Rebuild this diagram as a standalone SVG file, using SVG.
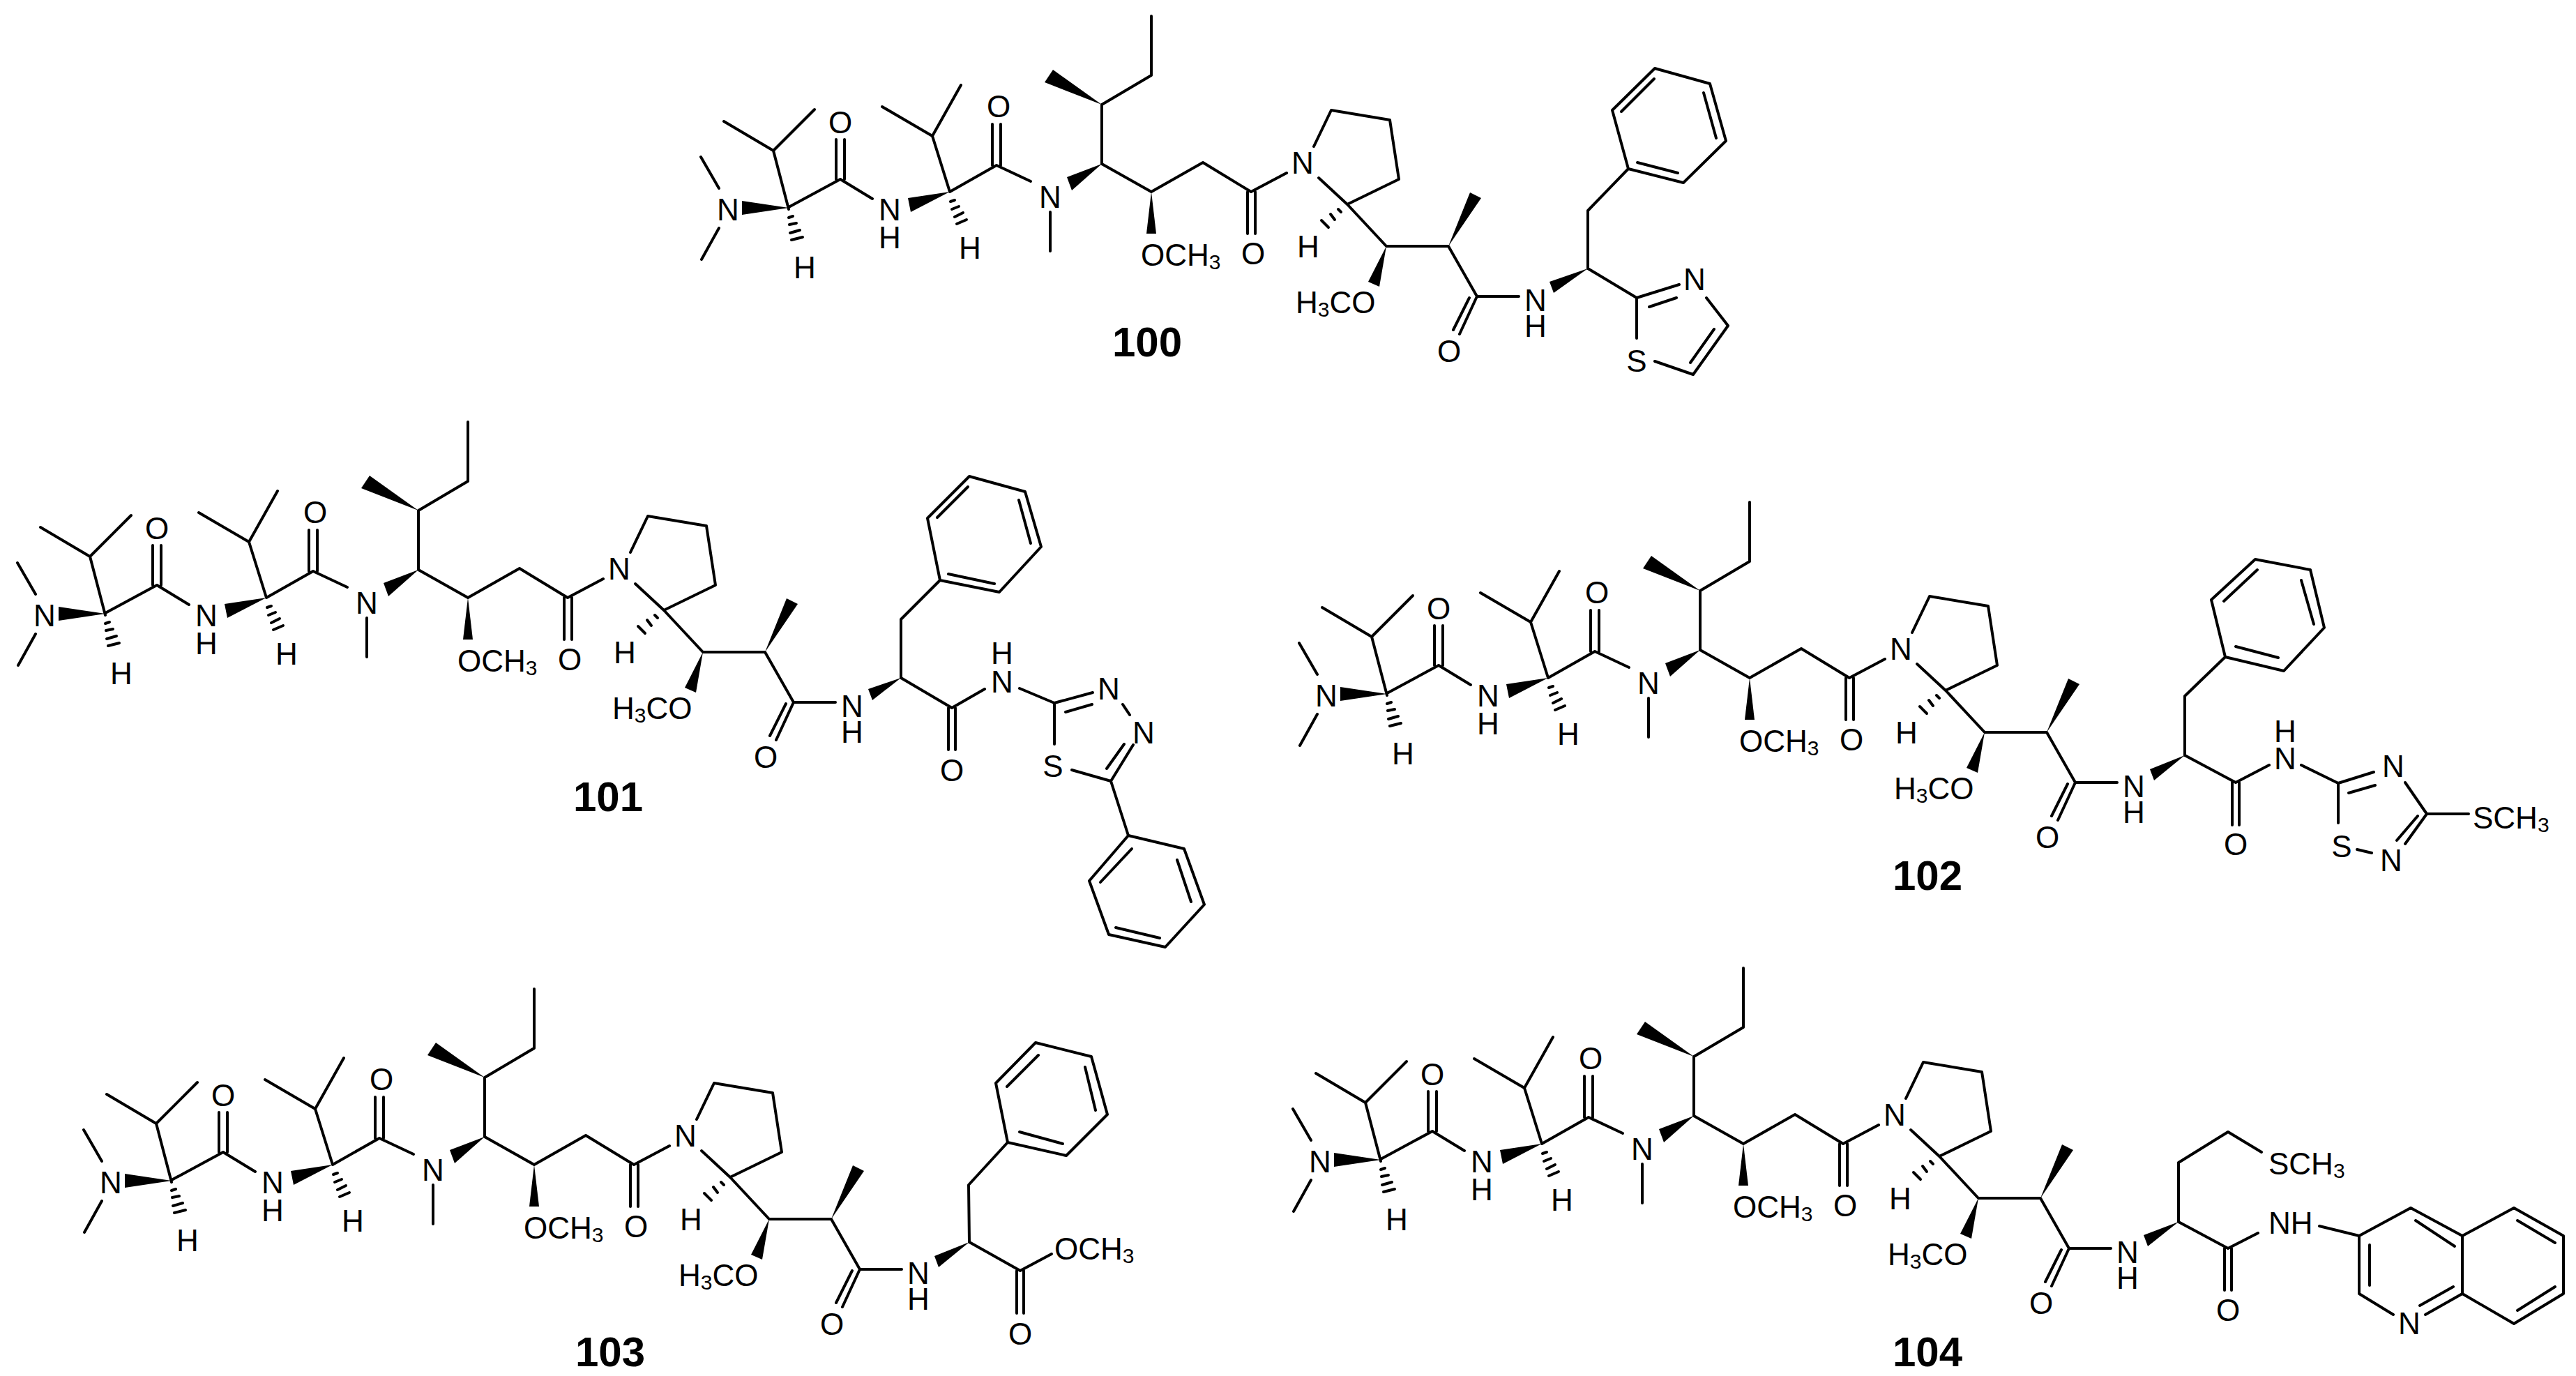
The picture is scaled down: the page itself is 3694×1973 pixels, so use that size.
<svg xmlns="http://www.w3.org/2000/svg" xmlns:xlink="http://www.w3.org/1999/xlink" width="3694" height="1973" viewBox="0 0 3694 1973">
<style>
.b{stroke:#000;stroke-width:4;fill:none;stroke-linecap:round;stroke-linejoin:round}
.w{fill:#000;stroke:none}
.a{font-family:"Liberation Sans",Arial,sans-serif;font-size:44px;text-anchor:middle;dominant-baseline:central;fill:#000}
.s{font-family:"Liberation Sans",Arial,sans-serif;font-size:44px;text-anchor:start;dominant-baseline:central;fill:#000}
.sub{font-size:30px}
.lbl{font-family:"Liberation Sans",Arial,sans-serif;font-size:60px;font-weight:bold;text-anchor:middle;dominant-baseline:central;fill:#000}
</style>
<rect width="3694" height="1973" fill="#fff"/>
<defs>
<g id="core">
<path class="b" d="M1031,270 L1005,225 M1031,327 L1006,372 M1131,300 L1109,216 L1038,174 M1109,216 L1168,157 M1131,297 L1205,257 L1251,285 M1199,257 L1199,200 M1211,257 L1211,200"/>
<polygon class="w" points="1064,288 1064,308 1131,298"/>
<path class="b" d="M1131,312 L1137,310 M1132,322 L1142,320 M1133,334 L1147,330 M1135,344 L1151,340"/>
<text class="a" x="1044" y="300">N</text>
<text class="a" x="1154" y="383">H</text>
<text class="a" x="1205" y="175">O</text>
<text class="a" x="1276" y="300">N</text>
<text class="a" x="1276" y="340">H</text>
<polygon class="w" points="1302,284 1306,304 1362,275"/>
<path class="b" d="M1363,289 L1369,287 M1365,300 L1375,296 M1369,311 L1381,305 M1372,321 L1386,315"/>
<text class="a" x="1391" y="355">H</text>
<path class="b" d="M1362,275 L1337,195 L1265,153 M1337,195 L1378,122 M1362,275 L1429,237 L1478,260 M1423,237 L1423,178 M1435,237 L1435,178 M1506,304 L1506,360"/>
<text class="a" x="1432" y="152">O</text>
<text class="a" x="1506" y="282">N</text>
<polygon class="w" points="1530,254 1537,273 1580,235"/>
<path class="b" d="M1580,235 L1580,150 L1651,108 L1651,23 M1580,235 L1651,275 L1725,233 L1794,275 L1845,248 M1789,275 L1789,335 M1800,275 L1800,335"/>
<polygon class="w" points="1498,118 1510,100 1580,150"/>
<polygon class="w" points="1651,275 1644,335 1658,335"/>
<text class="s" x="1636" y="365">OCH<tspan class="sub" dy="10">3</tspan></text>
<text class="a" x="1797" y="363">O</text>
<text class="a" x="1868" y="233">N</text>
<path class="b" d="M1884,210 L1909,158 L1993,172 L2006,257 L1932,293 L1891,255 M1932,293 L1988,353 L2077,353 L2118,425 L2178,425 M2118,425 L2093,479 M2107,427 L2084,473"/>
<path class="b" d="M1919,300 L1923,304 M1908,307 L1914,315 M1895,316 L1905,326"/>
<text class="a" x="1876" y="353">H</text>
<polygon class="w" points="1988,353 1962,404 1978,411"/>
<text class="s" x="1858" y="433">H<tspan class="sub" dy="10">3</tspan><tspan dy="-10">CO</tspan></text>
<polygon class="w" points="2077,353 2108,276 2124,284"/>
<text class="a" x="2078" y="503">O</text>
<text class="a" x="2202" y="430">N</text>
<text class="a" x="2202" y="467">H</text>
</g>
</defs>

<g id="compound-100">
<use xlink:href="#core" href="#core"/>
<polygon class="w" points="2222,404 2228,420 2277,385"/>
<path class="b" d="M2277,385 L2277,302 L2335,242 M2335,242 L2312,158 L2373,98 L2452,120 L2475,202 L2414,262 Z M2325,160 L2372,113 M2443,133 L2461,198 M2348,233 L2406,248"/>
<path class="b" d="M2277,385 L2347,427 L2408,408 M2365,440 L2404,427 M2447,427 L2478,467 L2428,537 L2373,518 M2458,472 L2424,520 M2347,427 L2347,485"/>
<text class="a" x="2430" y="400">N</text>
<text class="a" x="2347" y="517">S</text>
<text class="lbl" x="1645" y="490">100</text>
</g>

<g id="compound-101">
<use xlink:href="#core" href="#core" transform="translate(-980,582)"/>
<polygon class="w" points="1245,988 1251,1004 1292,972"/>
<path class="b" d="M1292,972 L1292,888 L1348,832 M1348,832 L1330,743 L1390,683 L1470,705 L1493,784 L1433,849 Z M1344,742 L1388,698 M1461,717 L1478,779 M1360,823 L1426,837"/>
<path class="b" d="M1292,972 L1365,1015 L1412,988 M1360,1015 L1360,1075 M1370,1015 L1370,1075 M1462,987 L1512,1008 L1567,993 M1528,1021 L1566,1010 M1610,1010 L1620,1025 M1625,1068 L1593,1120 L1537,1104 M1612,1067 L1587,1102 M1512,1008 L1512,1067 M1593,1120 L1618,1198"/>
<text class="a" x="1365" y="1104">O</text>
<text class="a" x="1437" y="977">N</text>
<text class="a" x="1437" y="936">H</text>
<text class="a" x="1590" y="987">N</text>
<text class="a" x="1640" y="1050">N</text>
<text class="a" x="1510" y="1098">S</text>
<path class="b" d="M1618,1198 L1698,1217 L1727,1297 L1671,1358 L1590,1340 L1562,1263 Z M1578,1265 L1623,1217 M1688,1233 L1708,1293 M1600,1330 L1663,1345"/>
<text class="lbl" x="872" y="1142">101</text>
</g>

<g id="compound-102">
<use xlink:href="#core" href="#core" transform="translate(858,697)"/>
<polygon class="w" points="3083,1103 3089,1119 3133,1083"/>
<path class="b" d="M3133,1083 L3133,998 L3191,942 M3191,942 L3171,860 L3234,802 L3313,817 L3333,900 L3275,962 Z M3189,862 L3237,817 M3300,832 L3318,895 M3206,927 L3267,943"/>
<path class="b" d="M3133,1083 L3206,1122 L3254,1097 M3201,1122 L3201,1183 M3211,1122 L3211,1183 M3300,1097 L3353,1123 L3404,1107 M3368,1137 L3406,1126 M3449,1122 L3480,1167 L3540,1167 M3480,1167 L3449,1210 M3467,1170 L3437,1205 M3401,1223 L3380,1218 M3353,1180 L3353,1123"/>
<text class="a" x="3206" y="1210">O</text>
<text class="a" x="3277" y="1087">N</text>
<text class="a" x="3277" y="1048">H</text>
<text class="a" x="3432" y="1098">N</text>
<text class="a" x="3429" y="1233">N</text>
<text class="a" x="3358" y="1213">S</text>
<text class="s" x="3546" y="1172">SCH<tspan class="sub" dy="10">3</tspan></text>
<text class="lbl" x="2764" y="1255">102</text>
</g>

<g id="compound-103">
<use xlink:href="#core" href="#core" transform="translate(-885,1395)"/>
<polygon class="w" points="1340,1801 1346,1817 1390,1781"/>
<path class="b" d="M1390,1781 L1389,1699 L1445,1638 M1445,1638 L1428,1553 L1485,1495 L1565,1515 L1588,1598 L1529,1657 Z M1444,1558 L1489,1513 M1556,1530 L1571,1592 M1462,1623 L1524,1640"/>
<path class="b" d="M1390,1781 L1463,1822 L1508,1798 M1458,1822 L1458,1883 M1468,1822 L1468,1883"/>
<text class="a" x="1463" y="1912">O</text>
<text class="s" x="1512" y="1790">OCH<tspan class="sub" dy="10">3</tspan></text>
<text class="lbl" x="875" y="1938">103</text>
</g>

<g id="compound-104">
<use xlink:href="#core" href="#core" transform="translate(849,1365)"/>
<polygon class="w" points="3074,1771 3080,1787 3124,1752"/>
<path class="b" d="M3124,1752 L3124,1667 L3195,1623 L3243,1652 M3124,1752 L3195,1790 L3238,1768 M3190,1790 L3190,1850 M3200,1790 L3200,1850 M3326,1758 L3383,1772"/>
<text class="a" x="3195" y="1878">O</text>
<text class="s" x="3253" y="1668">SCH<tspan class="sub" dy="10">3</tspan></text>
<text class="s" x="3253" y="1753">NH</text>
<path class="b" d="M3383,1772 L3457,1732 L3531,1772 L3531,1855 L3478,1885 M3432,1885 L3383,1855 L3383,1772 M3398,1785 L3398,1843 M3464,1750 L3520,1787 M3470,1872 L3518,1845 M3531,1772 L3605,1732 L3676,1772 L3676,1855 L3605,1898 L3531,1855 M3610,1750 L3664,1782 M3664,1845 L3610,1879"/>
<text class="a" x="3455" y="1897">N</text>
<text class="lbl" x="2764" y="1938">104</text>
</g>
</svg>
